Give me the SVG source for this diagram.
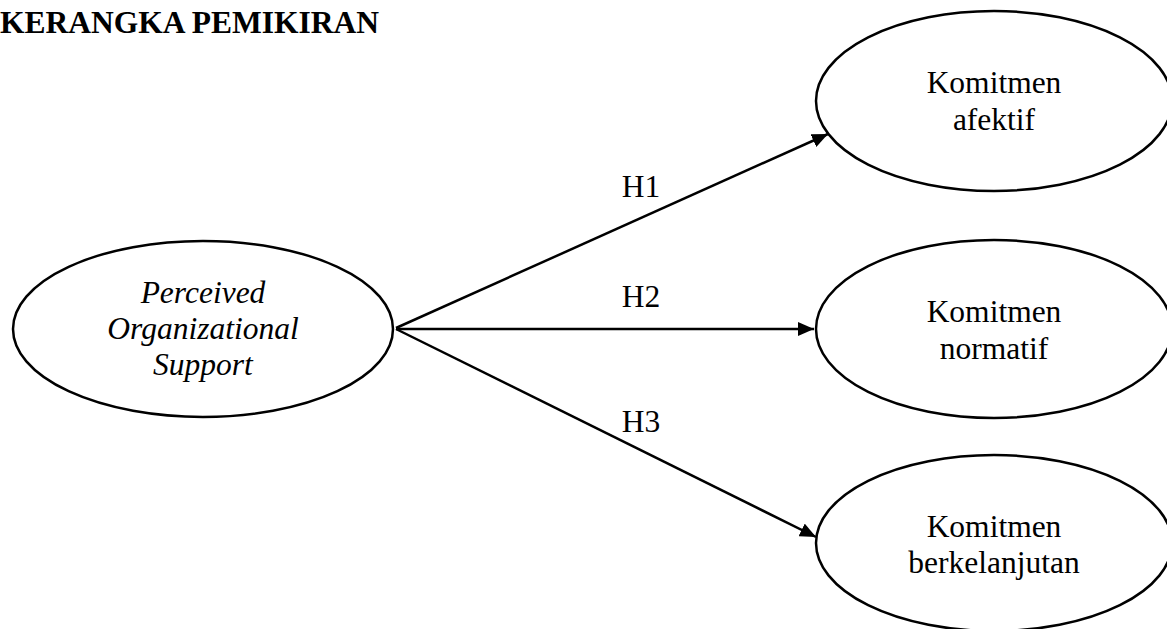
<svg xmlns="http://www.w3.org/2000/svg" width="1167" height="629" viewBox="0 0 1167 629">
<style>
.node{fill:#fff;stroke:#000;stroke-width:2.5}
.t{font-family:"Liberation Serif","Times New Roman",serif;font-size:31.5px;fill:#000;text-anchor:middle}
.i{font-style:italic}
.edge{stroke:#000;stroke-width:2.5;fill:none;marker-end:url(#arr)}
.title{font-family:"Liberation Serif","Times New Roman",serif;font-size:31.5px;font-weight:bold;fill:#000}
</style>
<defs>
<marker id="arr" markerUnits="userSpaceOnUse" markerWidth="18" markerHeight="14" refX="16" refY="7" orient="auto">
<path d="M0,0 L16,7 L0,14 Z" fill="#000"/>
</marker>
</defs>
<rect width="1167" height="629" fill="#fff"/>
<text class="title" x="0" y="33">KERANGKA PEMIKIRAN</text>
<g id="connectors">
<line class="edge" x1="396" y1="328" x2="828" y2="134"/>
<line class="edge" x1="396" y1="329" x2="814" y2="329"/>
<line class="edge" x1="396" y1="329" x2="816" y2="537"/>
<text class="t" x="641" y="197">H1</text>
<text class="t" x="641" y="307">H2</text>
<text class="t" x="641" y="432">H3</text>
</g>
<g id="pos">
<ellipse class="node" cx="203" cy="329" rx="190" ry="88"/>
<text class="t i" x="203" y="303">Perceived</text>
<text class="t i" x="203" y="339">Organizational</text>
<text class="t i" x="203" y="375">Support</text>
</g>
<g id="afektif">
<ellipse class="node" cx="994" cy="101" rx="178" ry="90"/>
<text class="t" x="994" y="93">Komitmen</text>
<text class="t" x="994" y="130">afektif</text>
</g>
<g id="normatif">
<ellipse class="node" cx="994" cy="329" rx="178" ry="89"/>
<text class="t" x="994" y="322">Komitmen</text>
<text class="t" x="994" y="359">normatif</text>
</g>
<g id="berkelanjutan">
<ellipse class="node" cx="994" cy="543" rx="178" ry="88"/>
<text class="t" x="994" y="537">Komitmen</text>
<text class="t" x="994" y="573">berkelanjutan</text>
</g>
</svg>
